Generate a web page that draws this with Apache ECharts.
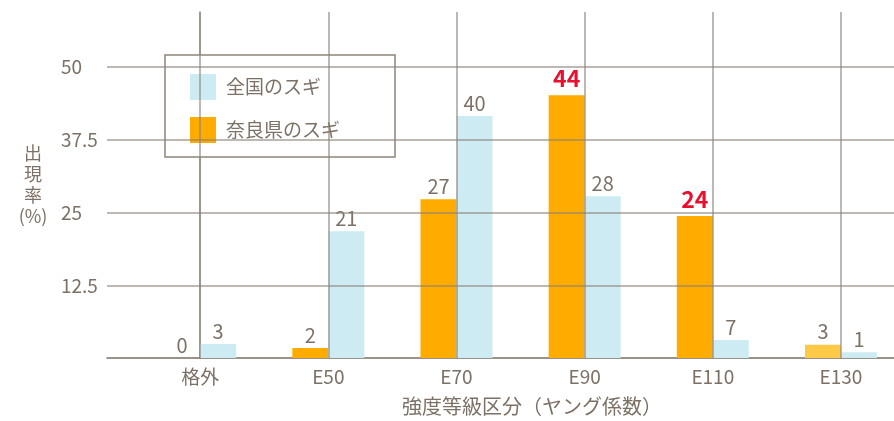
<!DOCTYPE html>
<html>
<head>
<meta charset="utf-8">
<script src="https://cdn.jsdelivr.net/npm/echarts@6/dist/echarts.min.js"></script>
<style>
  html, body { margin: 0; padding: 0; background: #fff; }
  #chart { width: 894px; height: 421px; }
</style>
</head>
<body>
<div id="chart"></div>
<script>
// 強度等級区分ごとの出現率 (%)
const categories = ['格外', 'E50', 'E70', 'E90', 'E110', 'E130'];
// 棒の高さ
const zenkoku = [2.4, 21.8, 41.6, 27.8, 3.1, 1.0];   // 全国のスギ
const nara = [0, 1.7, 27.3, 45.2, 24.4, 2.3];        // 奈良県のスギ
// 棒の上に表示されている数値
const zenkokuLabels = [3, 21, 40, 28, 7, 1];
const naraLabels = [0, 2, 27, 44, 24, 3];
const yTicks = [12.5, 25, 37.5, 50];
const naraHighlight = ['E90', 'E110'];   // 赤字で表示
const naraLight = ['E130'];              // 淡い色の棒

const textColor = '#7d7166';
const gridColor = 'rgba(140,130,118,0.75)';
const font = '"Noto Sans CJK JP", "Noto Sans", sans-serif';

const chart = echarts.init(document.getElementById('chart'));

const naraData = nara.map((v, i) => {
  const item = { value: [i, v], label: { formatter: String(naraLabels[i]) } };
  if (naraHighlight.includes(categories[i])) {
    Object.assign(item.label, { color: '#e8102e', fontSize: 23, fontWeight: 'bold', distance: 5 });
  }
  if (naraLight.includes(categories[i])) {
    item.itemStyle = { color: '#fdc947' };
  }
  return item;
});

const zenkokuData = zenkoku.map((v, i) => ({
  value: [i, v],
  label: { formatter: String(zenkokuLabels[i]) },
}));

const option = {
  animation: false,
  textStyle: { fontFamily: font },
  grid: { left: 107, right: 0, top: 12, bottom: 61 },
  legend: {
    data: ['全国のスギ', '奈良県のスギ'],
    orient: 'vertical',
    left: 165,
    top: 55,
    icon: 'rect',
    itemWidth: 26,
    itemHeight: 26,
    itemGap: 17,
    padding: [19, 55, 14, 25],
    backgroundColor: '#fff',
    borderColor: '#8f857a',
    borderWidth: 1.5,
    borderRadius: 0,
    textStyle: { fontSize: 19, color: textColor, fontFamily: font, padding: [0, 0, 0, 5] },
  },
  xAxis: {
    type: 'value',
    min: -0.727,
    max: 5.414,
    axisLine: { show: true, onZero: false, lineStyle: { color: '#7a6e62', width: 1.5 } },
    axisTick: { show: false, customValues: categories.map((c, i) => i) },
    splitLine: { show: false },
    axisLabel: {
      customValues: categories.map((c, i) => i),
      formatter: (v) => categories[Math.round(v)] || '',
      color: textColor,
      fontSize: 19,
      margin: 9,
    },
    name: '強度等級区分（ヤング係数）',
    nameLocation: 'middle',
    nameGap: 38,
    nameTextStyle: { color: textColor, fontSize: 20, padding: [0, 0, 0, 63] },
  },
  yAxis: {
    type: 'value',
    min: 0,
    max: 59.5,
    axisLine: { show: true, lineStyle: { color: '#a39a90', width: 1.5 } },
    axisTick: { show: false, customValues: yTicks },
    splitLine: { show: false },
    axisLabel: {
      customValues: yTicks,
      color: textColor,
      fontSize: 19,
      align: 'left',
      margin: 46,
    },
    name: '出\n現\n率\n(%)',
    nameLocation: 'middle',
    nameRotate: 0,
    nameGap: 74,
    nameTextStyle: { color: textColor, fontSize: 18, lineHeight: 21, align: 'center', padding: [6, 0, 0, 0] },
  },
  series: [
    {
      name: '奈良県のスギ',
      type: 'bar',
      barWidth: 36,
      barGap: '0%',
      itemStyle: { color: '#ffab00' },
      label: { show: true, position: 'top', distance: 3, color: textColor, fontSize: 20 },
      data: naraData,
    },
    {
      name: '全国のスギ',
      type: 'bar',
      barWidth: 36,
      barGap: '0%',
      itemStyle: { color: '#cdebf3' },
      label: { show: true, position: 'top', distance: 3, color: textColor, fontSize: 20 },
      data: zenkokuData,
    },
    {
      // グリッド線（棒の上に重ねて描く）
      name: 'grid',
      type: 'line',
      data: [],
      silent: true,
      markLine: {
        silent: true,
        symbol: 'none',
        label: { show: false },
        lineStyle: { color: gridColor, width: 1.5, type: 'solid' },
        data: categories.map((c, i) => ({ xAxis: i }))
          .concat(yTicks.map((t) => ({ yAxis: t }))),
      },
    },
  ],
};

chart.setOption(option);
</script>
</body>
</html>
